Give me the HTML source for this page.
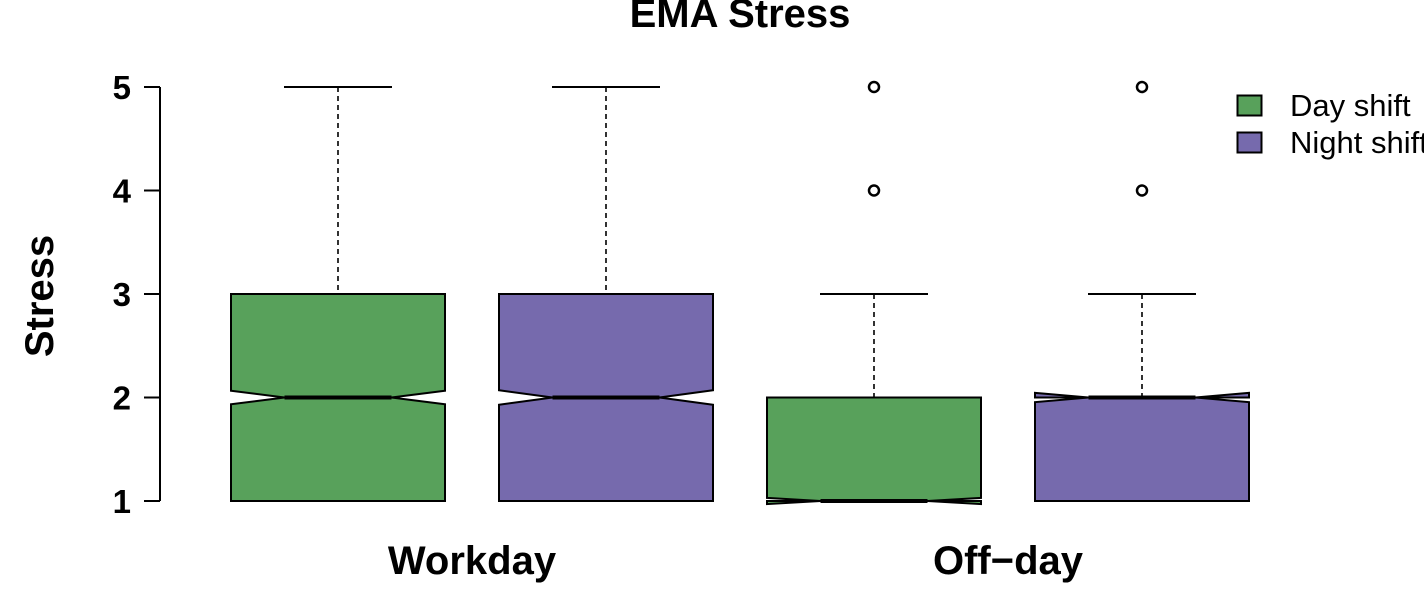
<!DOCTYPE html>
<html><head><meta charset="utf-8"><style>
body{margin:0;background:#fff;width:1424px;height:590px;overflow:hidden}
svg{display:block;font-family:"Liberation Sans",Arial,sans-serif}
</style></head><body>
<svg id="chart" width="1424" height="590" viewBox="0 0 1424 590">
<text x="740" y="27" font-size="40" font-weight="bold" text-anchor="middle">EMA Stress</text>
<text transform="translate(53,296) rotate(-90)" font-size="40" font-weight="bold" text-anchor="middle">Stress</text>
<g id="axis"></g><g id="boxes"></g>
<g>
<rect x="1237.5" y="95.5" width="24" height="20" fill="#58a15b" stroke="#000" stroke-width="2"/>
<text x="1290" y="116" font-size="31">Day shift</text>
<rect x="1237.5" y="132.5" width="24" height="20" fill="#766aad" stroke="#000" stroke-width="2"/>
<text x="1290" y="153" font-size="31">Night shift</text>
</g>
<text x="472" y="574" font-size="40" font-weight="bold" text-anchor="middle">Workday</text>
<text x="1008" y="574" font-size="40" font-weight="bold" text-anchor="middle">Off−day</text>
</svg>
<script>
const ticks=[1,2,3,4,5];
const boxNames=["workday-day","workday-night","offday-day","offday-night"];
const mins=[1,1,1,1];
const q1s=[1,1,1,1];
const medians=[2,2,1,2];
const q3s=[3,3,2,2];
const maxs=[5,5,3,3];
const notchHalf=[0.065,0.07,0.03,0.045];
const outliers=[[],[],[4,5],[4,5]];
const colors=["#58a15b","#766aad","#58a15b","#766aad"];
const ns="http://www.w3.org/2000/svg";
const y=v=>501-(v-1)*103.5;
const cx=i=>338+i*268;
const hw=107;
function mk(t,a,p){const e=document.createElementNS(ns,t);for(const k in a)e.setAttribute(k,a[k]);p.appendChild(e);return e;}
const ax=document.getElementById('axis');
mk('line',{x1:160,x2:160,y1:y(1),y2:y(5),stroke:'#000','stroke-width':2},ax);
ticks.forEach(t=>{
 const l=mk('line',{x1:144,x2:160,y1:y(t),y2:y(t),stroke:'#000','stroke-width':2},ax);
 
 
 const tx=mk('text',{x:131,y:y(t)+12,'font-size':33,'font-weight':'bold','text-anchor':'end'},ax);
 tx.textContent=t;
 
 
});
const bg=document.getElementById('boxes');
boxNames.forEach((n,i)=>{
 const g=mk('g',{},bg);
 
 
 const c=cx(i),L=c-hw,R=c+hw,wl=c-hw/2,wr=c+hw/2;
 const nt=y(medians[i]+notchHalf[i]),nb=y(medians[i]-notchHalf[i]),m=y(medians[i]);
 mk('line',{x1:c,x2:c,y1:y(maxs[i]),y2:y(q3s[i]),stroke:'#000','stroke-width':1.6,'stroke-dasharray':'5,4'},g);
 mk('line',{x1:c,x2:c,y1:y(q1s[i]),y2:y(mins[i]),stroke:'#000','stroke-width':1.6,'stroke-dasharray':'5,4'},g);
 mk('line',{x1:c-54,x2:c+54,y1:y(maxs[i]),y2:y(maxs[i]),stroke:'#000','stroke-width':2},g);
 mk('line',{x1:c-54,x2:c+54,y1:y(mins[i]),y2:y(mins[i]),stroke:'#000','stroke-width':2},g);
 const pts=[[L,y(q1s[i])],[L,nb],[wl,m],[L,nt],[L,y(q3s[i])],[R,y(q3s[i])],[R,nt],[wr,m],[R,nb],[R,y(q1s[i])]];
 mk('polygon',{points:pts.map(p=>p.join(',')).join(' '),fill:colors[i],stroke:'#000','stroke-width':2,'stroke-linejoin':'miter'},g);
 mk('line',{x1:wl,x2:wr,y1:m,y2:m,stroke:'#000','stroke-width':4},g);
 outliers[i].forEach(o=>{
  const ci=mk('circle',{cx:c,cy:y(o),r:5,fill:'#fff',stroke:'#000','stroke-width':2.5},g);
  
  
 });
});
</script>
</body></html>
